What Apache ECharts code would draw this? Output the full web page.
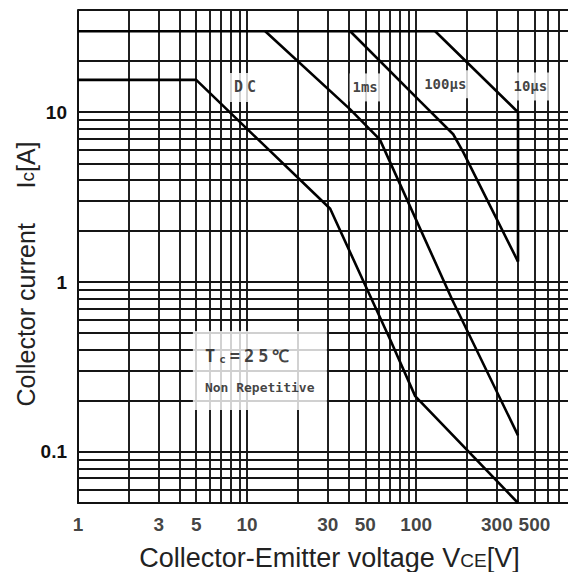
<!DOCTYPE html>
<html><head><meta charset="utf-8">
<script src="https://cdn.jsdelivr.net/npm/echarts@6/dist/echarts.min.js"></script>
<style>html,body{margin:0;padding:0;background:#fff}#c{width:568px;height:572px}</style>
</head><body><div id="c"></div>
<script>
// ---- data ----
const xTickLabels = [1, 3, 5, 10, 30, 50, 100, 300, 500];
const xGridValues = [2,3,4,5,6,7,8,9,10,20,30,40,50,60,70,80,90,100,200,300,400,500,600,700];
const yGridValues = [0.06,0.07,0.08,0.09,0.1,0.2,0.3,0.4,0.5,0.6,0.7,0.8,0.9,1,2,3,4,5,6,7,8,9,10,20,30,40];

const icMaxV = [1, 129.5];
const icMaxI = [30, 30];
const us10V  = [129.5, 400, 400];
const us10I  = [30, 10, 1.32];
const us100V = [40.7, 105.6, 165.5, 189.7, 400];
const us100I = [30, 11.6, 7.42, 5.82, 1.32];
const ms1V   = [12.8, 40.7, 61, 163, 400];
const ms1I   = [30, 10.4, 6.9, 0.79, 0.125];
const dcV    = [1, 5, 31, 70, 98.6, 400];
const dcI    = [15.5, 15.5, 2.7, 0.46, 0.213, 0.05];

const curveLabels = ['DC', '1ms', '100μs', '10μs'];
const curveLabelV = [9.73, 49.9, 148.5, 473];
const curveLabelI = [14.0, 14.0, 14.6, 14.2];

const noteV = 11.9, noteI = 0.3015;

// ---- chart ----
const pairs = (xs, ys) => xs.map((x, i) => [x, ys[i]]);
const curveStyle = { color: '#000', width: 2.6 };
const sans = 'Liberation Sans, Arial, sans-serif';
const mono = 'DejaVu Sans Mono, monospace';

const chart = echarts.init(document.getElementById('c'), null, { renderer: 'svg' });

function curve(name, xs, ys) {
  return { name, type: 'line', data: pairs(xs, ys), symbol: 'none', silent: true, z: 3,
           lineStyle: curveStyle, clip: false };
}

const tcStyle = { fontSize: 17, fontWeight: 'bold', fontFamily: mono, color: '#111', lineHeight: 32, align: 'left', padding: [0, 4, 0, 0] };
const lblStyle = { fontSize: 14, fontWeight: 'bold', fontFamily: mono, color: '#111' };

const option = {
  animation: false,
  backgroundColor: '#fff',
  grid: { left: 78, right: 0, top: 10, bottom: 69, containLabel: false, outerBoundsMode: 'none' },
  xAxis: {
    type: 'log', logBase: 10, min: 1, max: 790,
    axisLine: { show: true, lineStyle: { color: '#111', width: 2 } },
    axisTick: { show: false }, splitLine: { show: false }, axisLabel: { show: false },
    name: '{a|Collector-Emitter voltage V}{b|CE}{a|[V]}',
    nameLocation: 'middle', nameGap: 38, nameMoveOverlap: false,
    nameTextStyle: {
      padding: [0, 0, 0, 13],
      rich: {
        a: { fontSize: 27, fontFamily: sans, color: '#222', lineHeight: 30, verticalAlign: 'bottom' },
        b: { fontSize: 19, fontFamily: sans, color: '#222', lineHeight: 30, verticalAlign: 'bottom', padding: [0, 0, 1, 0] }
      }
    }
  },
  yAxis: {
    type: 'log', logBase: 10, min: 0.05, max: 40,
    axisLine: { show: true, lineStyle: { color: '#111', width: 2 } },
    axisTick: { show: false }, splitLine: { show: false },
    axisLabel: { fontSize: 19, fontWeight: 'bold', color: '#111', margin: 11, fontFamily: sans,
                 showMinLabel: false, showMaxLabel: false },
    name: '{a|Collector current\u00a0\u00a0\u00a0\u00a0\u00a0I}{b|c}{a|[A]}',
    nameLocation: 'middle', nameGap: 40, nameMoveOverlap: false,
    nameTextStyle: {
      padding: [0, 35, 0, 0],
      rich: {
        a: { fontSize: 25, fontFamily: sans, color: '#222', lineHeight: 28, verticalAlign: 'bottom' },
        b: { fontSize: 19, fontFamily: sans, color: '#222', lineHeight: 28, verticalAlign: 'bottom', padding: [0, 0, 1, 0] }
      }
    }
  },
  series: [
    {
      name: 'Ic max', type: 'line', data: pairs(icMaxV, icMaxI), symbol: 'none', silent: true, z: 3,
      lineStyle: curveStyle, clip: false,
      markLine: {
        silent: true, symbol: 'none', z: 1, animation: false,
        label: { show: false },
        lineStyle: { color: '#151515', width: 1.9, type: 'solid' },
        emphasis: { disabled: true },
        data: xGridValues.map(v => ({ xAxis: v })).concat(yGridValues.map(v => ({ yAxis: v })))
      }
    },
    curve('10μs', us10V, us10I),
    curve('100μs', us100V, us100I),
    curve('1ms', ms1V, ms1I),
    curve('DC', dcV, dcI),
    {
      name: 'curve labels', type: 'scatter', symbolSize: 0, silent: true, z: 4, clip: false,
      data: curveLabels.map((t, i) => ({ name: t, value: [curveLabelV[i], curveLabelI[i]] })),
      label: {
        show: true, position: 'inside', backgroundColor: '#fff', padding: [7, 3],
        formatter: p => p.name === 'DC' ? '{w|D}{w|C}' : '{n|' + p.name + '}',
        rich: {
          n: lblStyle,
          w: Object.assign({}, lblStyle, { fontSize: 15, padding: [0, 2, 0, 2] })
        }
      }
    },
    {
      name: 'note', type: 'scatter', symbolSize: 0, silent: true, z: 4, clip: false,
      data: [{ value: [noteV, noteI] }],
      label: {
        show: true, position: 'inside', backgroundColor: '#fff', padding: [9, 12, 6, 12], width: 110,
        formatter: '{t|T}{s|c}{t|=}{t|2}{t|5}{t|℃}\n{n|Non Repetitive}',
        rich: {
          t: tcStyle,
          s: { fontSize: 11, fontWeight: 'bold', fontFamily: mono, color: '#111', lineHeight: 32, align: 'left', verticalAlign: 'bottom', padding: [0, 4, 7, 0] },
          n: { fontSize: 13, fontWeight: 'bold', fontFamily: mono, color: '#111', lineHeight: 32, align: 'left' }
        }
      }
    },
    {
      name: 'x tick labels', type: 'scatter', symbolSize: 0, silent: true, z: 4, clip: false,
      data: xTickLabels.map(v => [v, 0.05]),
      label: { show: true, position: 'inside', offset: [0, 21], formatter: p => String(p.value[0]),
               fontSize: 19, fontWeight: 'bold', color: '#111', fontFamily: sans }
    }
  ]
};
chart.setOption(option);
</script></body></html>
